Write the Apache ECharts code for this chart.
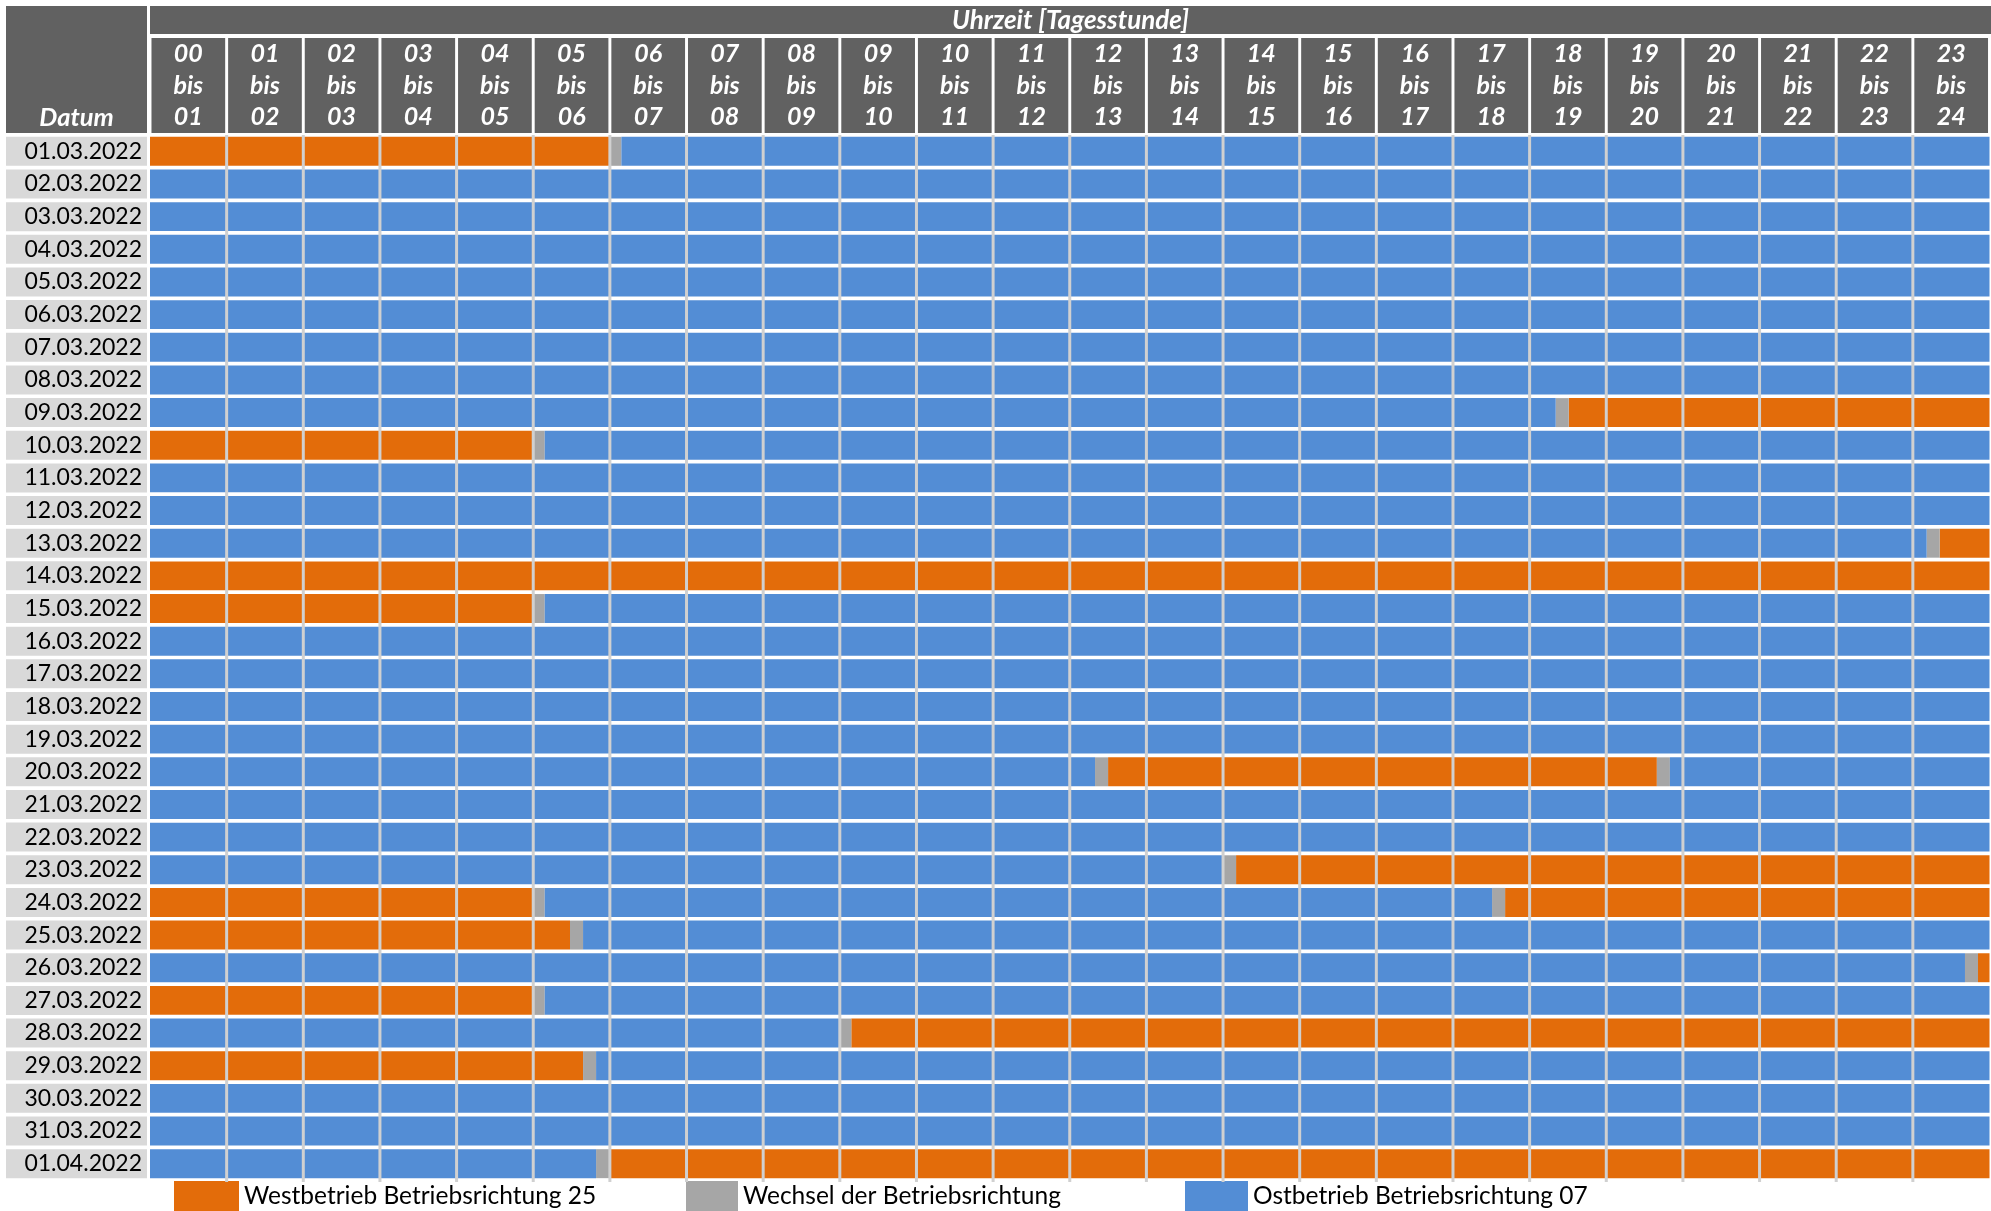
<!DOCTYPE html>
<html>
<head>
<meta charset="utf-8">
<script src="https://cdn.jsdelivr.net/npm/echarts@6/dist/echarts.min.js"></script>
<style>
html,body{margin:0;padding:0;background:#fff;}
#chart{width:1991px;height:1211px;}
</style>
</head>
<body>
<div id="chart"></div>
<script>
// ---- Data ----
const dates = ['01.03.2022','02.03.2022','03.03.2022','04.03.2022','05.03.2022','06.03.2022','07.03.2022','08.03.2022',
  '09.03.2022','10.03.2022','11.03.2022','12.03.2022','13.03.2022','14.03.2022','15.03.2022','16.03.2022',
  '17.03.2022','18.03.2022','19.03.2022','20.03.2022','21.03.2022','22.03.2022','23.03.2022','24.03.2022',
  '25.03.2022','26.03.2022','27.03.2022','28.03.2022','29.03.2022','30.03.2022','31.03.2022','01.04.2022'];

const hourFrom = ['00','01','02','03','04','05','06','07','08','09','10','11','12','13','14','15','16','17','18','19','20','21','22','23'];
const hourTo   = ['01','02','03','04','05','06','07','08','09','10','11','12','13','14','15','16','17','18','19','20','21','22','23','24'];

const seriesNames = ['Westbetrieb Betriebsrichtung 25', 'Wechsel der Betriebsrichtung', 'Ostbetrieb Betriebsrichtung 07'];

// [date, start hour, end hour]
const westSegments = [
  ['01.03.2022', 0, 6.0],
  ['09.03.2022', 18.51, 24],
  ['10.03.2022', 0, 5.0],
  ['13.03.2022', 23.35, 24],
  ['14.03.2022', 0, 24],
  ['15.03.2022', 0, 5.0],
  ['20.03.2022', 12.5, 19.66],
  ['23.03.2022', 14.17, 24],
  ['24.03.2022', 0, 5.0],
  ['24.03.2022', 17.68, 24],
  ['25.03.2022', 0, 5.48],
  ['26.03.2022', 23.85, 24],
  ['27.03.2022', 0, 5.0],
  ['28.03.2022', 9.15, 24],
  ['29.03.2022', 0, 5.65],
  ['01.04.2022', 6.0, 24]
];

const wechselSegments = [
  ['01.03.2022', 6.0, 6.15],
  ['09.03.2022', 18.34, 18.51],
  ['10.03.2022', 5.0, 5.15],
  ['13.03.2022', 23.18, 23.35],
  ['15.03.2022', 5.0, 5.15],
  ['20.03.2022', 12.33, 12.5],
  ['20.03.2022', 19.66, 19.83],
  ['23.03.2022', 14.0, 14.17],
  ['24.03.2022', 5.0, 5.15],
  ['24.03.2022', 17.51, 17.68],
  ['25.03.2022', 5.48, 5.65],
  ['26.03.2022', 23.68, 23.85],
  ['27.03.2022', 5.0, 5.15],
  ['28.03.2022', 9.0, 9.15],
  ['29.03.2022', 5.65, 5.82],
  ['01.04.2022', 5.82, 6.0]
];

const ostSegments = [
  ['01.03.2022', 6.15, 24],
  ['02.03.2022', 0, 24],
  ['03.03.2022', 0, 24],
  ['04.03.2022', 0, 24],
  ['05.03.2022', 0, 24],
  ['06.03.2022', 0, 24],
  ['07.03.2022', 0, 24],
  ['08.03.2022', 0, 24],
  ['09.03.2022', 0, 18.34],
  ['10.03.2022', 5.15, 24],
  ['11.03.2022', 0, 24],
  ['12.03.2022', 0, 24],
  ['13.03.2022', 0, 23.18],
  ['15.03.2022', 5.15, 24],
  ['16.03.2022', 0, 24],
  ['17.03.2022', 0, 24],
  ['18.03.2022', 0, 24],
  ['19.03.2022', 0, 24],
  ['20.03.2022', 0, 12.33],
  ['20.03.2022', 19.83, 24],
  ['21.03.2022', 0, 24],
  ['22.03.2022', 0, 24],
  ['23.03.2022', 0, 14.0],
  ['24.03.2022', 5.15, 17.51],
  ['25.03.2022', 5.65, 24],
  ['26.03.2022', 0, 23.68],
  ['27.03.2022', 5.15, 24],
  ['28.03.2022', 0, 9.0],
  ['29.03.2022', 5.82, 24],
  ['30.03.2022', 0, 24],
  ['31.03.2022', 0, 24],
  ['01.04.2022', 0, 5.82]
];

// ---- Derived ----
const hourLabels = hourFrom.map((f, i) => f + '\nbis\n' + hourTo[i]);
const dividerData = hourFrom.slice(1).map((_, i) => [i + 1]);

const COLORS = { west: '#E36C0A', wechsel: '#A6A6A6', ost: '#538DD5' };
const HEAD = '#616161';
const FONT = 'Lato, "Open Sans", sans-serif';

function renderSegment(params, api) {
  const yIdx = api.value(0);
  const s = api.coord([api.value(1), yIdx]);
  const e = api.coord([api.value(2), yIdx]);
  const h = api.size([0, 1])[1] * 0.887;
  return {
    type: 'rect',
    shape: { x: s[0], y: s[1] - h / 2, width: e[0] - s[0], height: h },
    style: { fill: api.visual('color') }
  };
}

function renderDivider(params, api) {
  const x = api.coord([api.value(0), 0])[0];
  const cs = params.coordSys;
  return {
    type: 'rect',
    shape: { x: x - 1.5, y: cs.y, width: 3, height: cs.height + 2 },
    style: { fill: '#D0D0D0' }
  };
}

function segSeries(name, data, color) {
  return {
    name: name,
    type: 'custom',
    renderItem: renderSegment,
    xAxisIndex: 0,
    yAxisIndex: 0,
    itemStyle: { color: color },
    dimensions: ['date', 'start', 'end'],
    encode: { y: 0, x: [1, 2] },
    data: data,
    z: 2,
    silent: true
  };
}

const legendBase = {
  orient: 'horizontal',
  top: 1181,
  padding: 0,
  icon: 'rect',
  itemHeight: 30,
  selectedMode: false,
  textStyle: { fontSize: 24.5, color: '#000', fontFamily: FONT, padding: [2, 0, 0, 0] }
};

const option = {
  animation: false,
  backgroundColor: '#fff',
  grid: { left: 150, right: 0, top: 135, bottom: 31 },
  xAxis: [
    { type: 'value', min: 0, max: 24, interval: 1, show: false },
    {
      type: 'category',
      data: hourLabels,
      position: 'top',
      axisLine: { show: false },
      axisTick: { show: false },
      splitLine: { show: false },
      axisLabel: {
        interval: 0,
        margin: 2,
        color: '#fff',
        fontFamily: FONT,
        fontStyle: 'italic',
        fontWeight: 'bold',
        fontSize: 25,
        lineHeight: 31.7,
        width: 73.7,
        align: 'center',
        backgroundColor: HEAD
      }
    }
  ],
  yAxis: {
    type: 'category',
    inverse: true,
    data: dates,
    axisLine: { show: false },
    axisTick: { show: false },
    splitLine: { show: false },
    axisLabel: {
      interval: 0,
      margin: 3,
      color: '#000',
      fontFamily: FONT,
      fontSize: 23,
      width: 136,
      height: 29,
      lineHeight: 29,
      padding: [0, 5, 0, 0],
      align: 'right',
      verticalAlign: 'middle',
      backgroundColor: '#D9D9D9'
    }
  },
  legend: [
    Object.assign({}, legendBase, { left: 174, itemWidth: 65, data: [seriesNames[0]] }),
    Object.assign({}, legendBase, { left: 686, itemWidth: 52, data: [seriesNames[1]] }),
    Object.assign({}, legendBase, { left: 1185, itemWidth: 63, data: [seriesNames[2]] })
  ],
  graphic: [
    { type: 'rect', shape: { x: 6, y: 6, width: 141, height: 127 }, style: { fill: HEAD }, silent: true },
    { type: 'text', x: 76.5, y: 118, silent: true,
      style: { text: 'Datum', fill: '#fff', font: 'italic bold 25.5px ' + FONT, align: 'center', verticalAlign: 'middle', textAlign: 'center', textVerticalAlign: 'middle' } },
    { type: 'rect', shape: { x: 150, y: 6, width: 1841, height: 28 }, style: { fill: HEAD }, silent: true },
    { type: 'text', x: 1070.5, y: 21, silent: true,
      style: { text: 'Uhrzeit [Tagesstunde]', fill: '#fff', font: 'italic bold 26px ' + FONT, align: 'center', verticalAlign: 'middle', textAlign: 'center', textVerticalAlign: 'middle' } }
  ],
  series: [
    segSeries(seriesNames[0], westSegments, COLORS.west),
    segSeries(seriesNames[1], wechselSegments, COLORS.wechsel),
    segSeries(seriesNames[2], ostSegments, COLORS.ost),
    {
      type: 'custom',
      renderItem: renderDivider,
      xAxisIndex: 0,
      yAxisIndex: 0,
      encode: { x: 0 },
      data: dividerData,
      z: 5,
      silent: true
    }
  ]
};

const chart = echarts.init(document.getElementById('chart'), null, { renderer: 'canvas' });
chart.setOption(option);
</script>
</body>
</html>
